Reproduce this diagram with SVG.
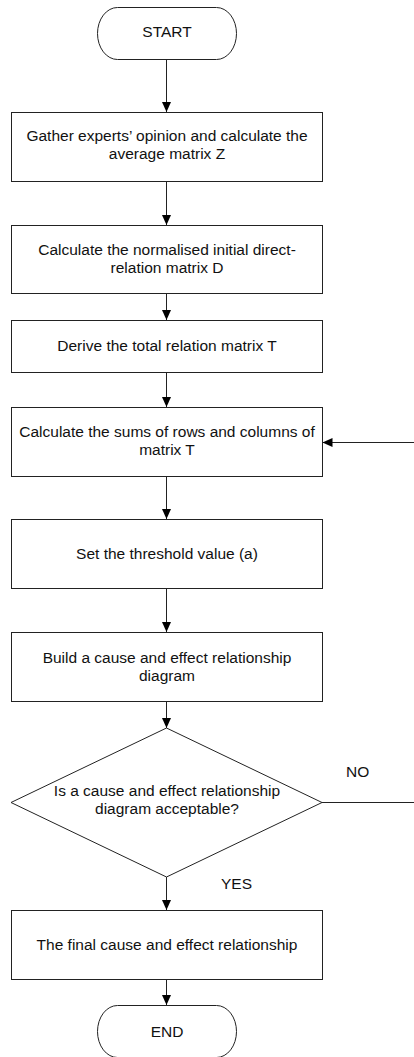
<svg xmlns="http://www.w3.org/2000/svg" width="414" height="1057" viewBox="0 0 414 1057">
<style>
.box{fill:#fff;stroke:#222;stroke-width:1}
.t{font-family:"Liberation Sans",Arial,sans-serif;font-size:15.5px;fill:#111;text-anchor:middle}
.lbl{font-family:"Liberation Sans",Arial,sans-serif;font-size:15.5px;fill:#111}
.c{fill:none;stroke:#222;stroke-width:1}
</style>
<defs>
<marker id="arr" markerUnits="userSpaceOnUse" markerWidth="10" markerHeight="10" refX="10" refY="5" orient="auto" viewBox="0 0 10 10">
<path d="M0,0.5 L10,5 L0,9.5 z" fill="#000"/>
</marker>
</defs>
<rect width="414" height="1057" fill="#fff"/>
<g id="connectors">
<path class="c" d="M166.5,60 V112" marker-end="url(#arr)"/>
<path class="c" d="M166.5,181 V225" marker-end="url(#arr)"/>
<path class="c" d="M166.5,293 V320" marker-end="url(#arr)"/>
<path class="c" d="M166.5,372 V407" marker-end="url(#arr)"/>
<path class="c" d="M166.5,477 V519" marker-end="url(#arr)"/>
<path class="c" d="M166.5,589 V632" marker-end="url(#arr)"/>
<path class="c" d="M166.5,702 V728" marker-end="url(#arr)"/>
<path class="c" d="M166.5,877 V910" marker-end="url(#arr)"/>
<path class="c" d="M166.5,980 V1005" marker-end="url(#arr)"/>
<path class="c" d="M322,802.5 H440 V442.5 H322.5" marker-end="url(#arr)"/>
<text class="lbl" x="346" y="777">NO</text>
<text class="lbl" x="221" y="889">YES</text>
</g>
<g id="start">
<rect class="box" x="97.5" y="7.5" width="139" height="52" rx="20" ry="26"/>
<text class="t" x="167" y="37">START</text>
</g>
<g id="step1">
<rect class="box" x="11.5" y="112.5" width="311" height="69"/>
<text class="t" x="167" y="141">Gather experts’ opinion and calculate the</text>
<text class="t" x="167" y="159">average matrix Z</text>
</g>
<g id="step2">
<rect class="box" x="11.5" y="225.5" width="311" height="68"/>
<text class="t" x="167" y="255">Calculate the normalised initial direct-</text>
<text class="t" x="167" y="273">relation matrix D</text>
</g>
<g id="step3">
<rect class="box" x="11.5" y="320.5" width="311" height="52"/>
<text class="t" x="167" y="351">Derive the total relation matrix T</text>
</g>
<g id="step4">
<rect class="box" x="11.5" y="407.5" width="311" height="69"/>
<text class="t" x="167" y="437">Calculate the sums of rows and columns of</text>
<text class="t" x="167" y="455">matrix T</text>
</g>
<g id="step5">
<rect class="box" x="11.5" y="519.5" width="311" height="69"/>
<text class="t" x="167" y="559">Set the threshold value (a)</text>
</g>
<g id="step6">
<rect class="box" x="11.5" y="632.5" width="311" height="69"/>
<text class="t" x="167" y="663">Build a cause and effect relationship</text>
<text class="t" x="167" y="681">diagram</text>
</g>
<g id="decision">
<polygon class="box" points="166.5,728 322,802.5 166.5,877 11,802.5"/>
<text class="t" x="167" y="796">Is a cause and effect relationship</text>
<text class="t" x="167" y="814">diagram acceptable?</text>
</g>
<g id="step7">
<rect class="box" x="11.5" y="910.5" width="311" height="69"/>
<text class="t" x="167" y="950">The final cause and effect relationship</text>
</g>
<g id="end">
<rect class="box" x="97.5" y="1005.5" width="139" height="52" rx="20" ry="26"/>
<text class="t" x="167" y="1037">END</text>
</g>
</svg>
